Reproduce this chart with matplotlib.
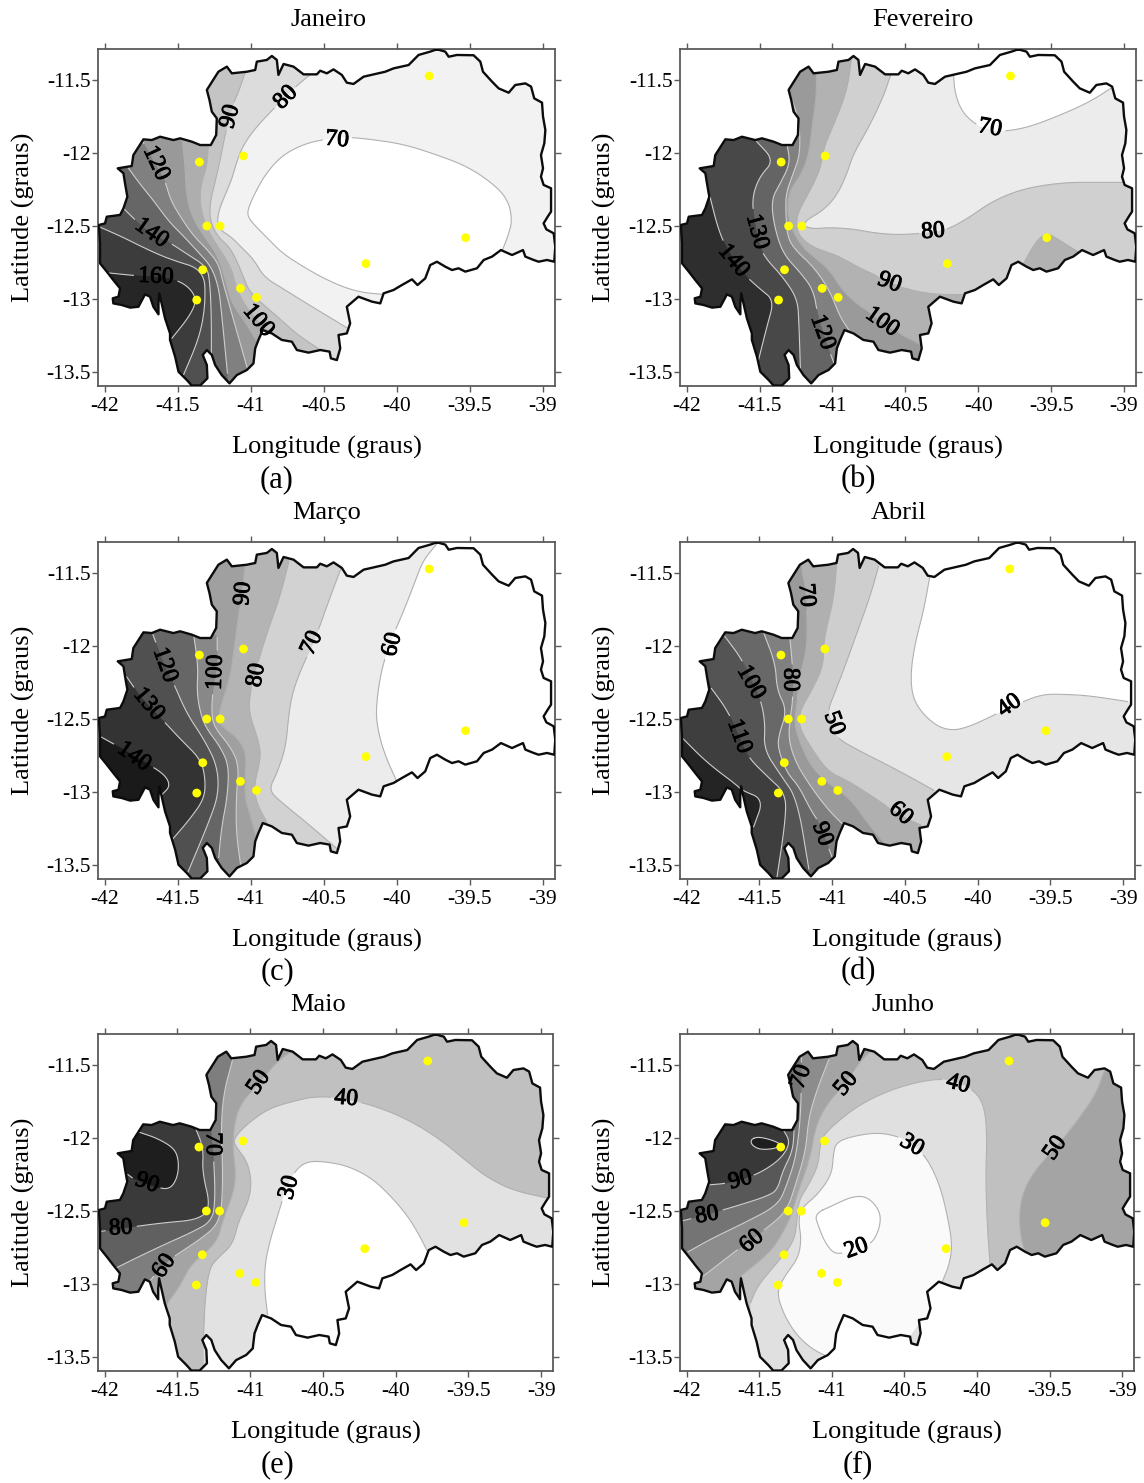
import numpy as np
import matplotlib
matplotlib.use("Agg")
import matplotlib.pyplot as plt
from matplotlib.patches import Polygon
import matplotlib.patheffects as pe

plt.rcParams['font.family'] = ['Liberation Serif', 'DejaVu Serif']

SW = (-42.3, -13.9); NW = (-42.3, -11.0); NE = (-38.7, -11.0); SE = (-38.7, -13.9)

XTICKS = [-42, -41.5, -41, -40.5, -40, -39.5, -39]
XTICKLABELS = ['-42', '-41.5', '-41', '-40.5', '-40', '-39.5', '-39']
YTICKS = [-11.5, -12, -12.5, -13, -13.5]
YTICKLABELS = ['-11.5', '-12', '-12.5', '-13', '-13.5']

STATION_LON = [-39.779, -41.050, -41.352, -41.301, -41.210, -41.329, -41.370, -41.071, -40.961, -40.212, -39.530]
STATION_LAT = [-11.470, -12.019, -12.061, -12.500, -12.500, -12.800, -13.008, -12.928, -12.990, -12.758, -12.580]

BASIN = [(-39.726,-11.287),(-39.669,-11.303),(-39.646,-11.338),(-39.589,-11.326),(-39.475,-11.328),(-39.429,-11.372),(-39.411,-11.441),(-39.349,-11.509),(-39.304,-11.555),(-39.235,-11.585),(-39.190,-11.532),(-39.121,-11.521),(-39.082,-11.543),(-39.060,-11.624),(-39.007,-11.653),(-39.000,-11.749),(-38.984,-11.841),(-38.991,-11.932),(-39.014,-12.013),(-39.000,-12.104),(-39.014,-12.161),(-38.996,-12.218),(-38.945,-12.241),(-38.945,-12.401),(-38.968,-12.436),(-38.996,-12.482),(-38.977,-12.523),(-38.927,-12.550),(-38.916,-12.642),(-38.923,-12.745),(-38.973,-12.733),(-39.030,-12.745),(-39.064,-12.733),(-39.121,-12.710),(-39.137,-12.665),(-39.212,-12.699),(-39.288,-12.665),(-39.349,-12.710),(-39.406,-12.733),(-39.452,-12.790),(-39.532,-12.813),(-39.578,-12.790),(-39.623,-12.802),(-39.669,-12.779),(-39.726,-12.745),(-39.772,-12.768),(-39.806,-12.859),(-39.859,-12.905),(-39.897,-12.866),(-39.966,-12.905),(-40.023,-12.939),(-40.091,-12.962),(-40.114,-13.031),(-40.171,-13.019),(-40.263,-12.985),(-40.343,-13.054),(-40.320,-13.168),(-40.343,-13.237),(-40.400,-13.248),(-40.388,-13.340),(-40.411,-13.420),(-40.452,-13.408),(-40.461,-13.362),(-40.525,-13.351),(-40.605,-13.369),(-40.685,-13.351),(-40.719,-13.294),(-40.788,-13.282),(-40.856,-13.237),(-40.918,-13.214),(-40.948,-13.282),(-40.970,-13.340),(-40.982,-13.443),(-41.027,-13.488),(-41.096,-13.523),(-41.146,-13.580),(-41.199,-13.523),(-41.244,-13.454),(-41.267,-13.385),(-41.301,-13.351),(-41.329,-13.385),(-41.301,-13.454),(-41.297,-13.545),(-41.347,-13.595),(-41.404,-13.595),(-41.438,-13.557),(-41.495,-13.500),(-41.518,-13.397),(-41.553,-13.282),(-41.553,-13.237),(-41.587,-13.134),(-41.626,-12.962),(-41.632,-13.031),(-41.632,-13.106),(-41.667,-13.054),(-41.690,-12.985),(-41.724,-12.969),(-41.769,-13.054),(-41.826,-13.060),(-41.884,-13.042),(-41.941,-13.031),(-41.945,-12.996),(-41.906,-12.985),(-41.895,-12.928),(-41.941,-12.871),(-41.986,-12.813),(-42.032,-12.756),(-42.032,-12.619),(-42.040,-12.493),(-41.998,-12.482),(-41.986,-12.436),(-41.895,-12.424),(-41.872,-12.379),(-41.845,-12.299),(-41.861,-12.207),(-41.872,-12.138),(-41.911,-12.104),(-41.815,-12.088),(-41.804,-12.013),(-41.735,-11.905),(-41.678,-11.910),(-41.621,-11.887),(-41.530,-11.910),(-41.484,-11.898),(-41.404,-11.921),(-41.347,-11.944),(-41.274,-11.944),(-41.237,-11.875),(-41.233,-11.761),(-41.267,-11.715),(-41.283,-11.635),(-41.301,-11.566),(-41.244,-11.475),(-41.222,-11.441),(-41.164,-11.406),(-41.130,-11.452),(-41.027,-11.441),(-40.970,-11.429),(-40.959,-11.372),(-40.890,-11.360),(-40.856,-11.333),(-40.822,-11.360),(-40.811,-11.463),(-40.776,-11.388),(-40.708,-11.406),(-40.639,-11.459),(-40.548,-11.459),(-40.525,-11.434),(-40.480,-11.452),(-40.434,-11.425),(-40.377,-11.463),(-40.343,-11.516),(-40.297,-11.525),(-40.228,-11.475),(-40.080,-11.441),(-40.023,-11.418),(-39.920,-11.395),(-39.852,-11.326),(-39.772,-11.303)]

# ---- Janeiro
JAN_BASE = '#f2f2f2'
JAN_LEVELS = [70, 80, 90, 100, 110, 120, 130, 140, 150, 160]
JAN_FILLS = ['#ffffff', '#dcdcdc', '#c4c4c4', '#aeaeae', '#999999', '#808080', '#666666', '#505050', '#3c3c3c', '#262626']
JAN_LINES = [
 [(-40.08,-12.97),(-40.21,-12.96),(-40.34,-12.93),(-40.50,-12.86),(-40.64,-12.78),(-40.78,-12.69),(-40.87,-12.60),(-40.96,-12.51),(-41.02,-12.44),(-41.02,-12.38),(-40.96,-12.25),(-40.89,-12.13),(-40.78,-12.01),(-40.62,-11.93),(-40.46,-11.90),(-40.32,-11.89),(-40.14,-11.91),(-39.95,-11.94),(-39.73,-12.01),(-39.52,-12.09),(-39.34,-12.21),(-39.24,-12.32),(-39.21,-12.46),(-39.24,-12.57),(-39.28,-12.67)],
 [(-40.58,-11.45),(-40.69,-11.54),(-40.76,-11.61),(-40.84,-11.69),(-40.98,-11.84),(-41.06,-11.96),(-41.10,-12.07),(-41.13,-12.18),(-41.20,-12.34),(-41.23,-12.44),(-41.22,-12.52),(-41.14,-12.57),(-41.06,-12.65),(-40.98,-12.73),(-40.91,-12.85),(-40.78,-12.93),(-40.62,-13.03),(-40.34,-13.20)],
 [(-41.04,-11.45),(-41.08,-11.57),(-41.13,-11.68),(-41.18,-11.89),(-41.20,-12.00),(-41.24,-12.18),(-41.28,-12.34),(-41.28,-12.46),(-41.23,-12.57),(-41.15,-12.64),(-41.10,-12.73),(-41.05,-12.85),(-41.02,-12.93),(-40.96,-13.00),(-40.82,-13.12),(-40.69,-13.24),(-40.51,-13.36)],
 [(-41.29,-11.93),(-41.30,-12.09),(-41.34,-12.21),(-41.35,-12.34),(-41.31,-12.50),(-41.24,-12.62),(-41.18,-12.71),(-41.13,-12.80),(-41.10,-12.92),(-41.06,-13.01),(-41.00,-13.09),(-40.95,-13.16),(-40.85,-13.25)],
 [(-41.47,-11.90),(-41.45,-12.09),(-41.44,-12.30),(-41.40,-12.44),(-41.32,-12.57),(-41.24,-12.68),(-41.20,-12.78),(-41.16,-12.92),(-41.13,-13.03),(-41.03,-13.17),(-40.96,-13.29)],
 [(-41.74,-11.92),(-41.66,-12.07),(-41.59,-12.18),(-41.55,-12.32),(-41.48,-12.44),(-41.39,-12.57),(-41.30,-12.66),(-41.22,-12.76),(-41.19,-12.89),(-41.15,-13.03),(-41.10,-13.21),(-41.02,-13.49)],
 [(-41.84,-12.10),(-41.76,-12.21),(-41.67,-12.32),(-41.56,-12.47),(-41.46,-12.57),(-41.35,-12.69),(-41.27,-12.78),(-41.22,-12.92),(-41.20,-13.10),(-41.16,-13.51)],
 [(-41.87,-12.38),(-41.78,-12.47),(-41.68,-12.56),(-41.56,-12.61),(-41.44,-12.69),(-41.30,-12.78),(-41.28,-12.89),(-41.27,-13.12),(-41.27,-13.42)],
 [(-42.05,-12.50),(-41.89,-12.57),(-41.71,-12.66),(-41.55,-12.73),(-41.32,-12.80),(-41.31,-13.03),(-41.35,-13.26),(-41.46,-13.52)],
 [(-41.99,-12.82),(-41.80,-12.84),(-41.53,-12.86),(-41.42,-12.92),(-41.37,-13.01),(-41.42,-13.12),(-41.54,-13.27)],
]
JAN_CLOSE = [
 [(-39.5,-12.95)],
 [(-40.3,-13.9), SW, NW, (-40.58,-11.0)],
 [(-40.5,-13.9), SW, NW, (-41.04,-11.0)],
 [(-40.8,-13.9), SW, NW, (-41.32,-11.0)],
 [(-40.9,-13.9), SW, NW, (-41.47,-11.0)],
 [(-41.0,-13.9), SW, NW, (-41.74,-11.0)],
 [(-41.16,-13.9), SW, NW],
 [(-41.27,-13.9), SW, NW],
 [(-41.5,-13.9), SW],
 [(-41.7,-13.4), (-42.2,-13.2), (-42.2,-12.8)],
]
JAN_LABELS = [('120',-41.65,-12.07,-65),('140',-41.68,-12.55,-35),('160',-41.65,-12.85,-3),('100',-40.95,-13.15,-50),('90',-41.14,-11.75,75),('80',-40.76,-11.62,45),('70',-40.41,-11.91,-5)]

# ---- Fevereiro
FEB_BASE = '#ececec'
FEB_LEVELS = [70, 80, 90, 90, 100, 110, 120, 130, 140]
FEB_FILLS = ['#ffffff', '#d0d0d0', '#b2b2b2', '#b2b2b2', '#9a9a9a', '#808080', '#646464', '#484848', '#2e2e2e']
FEB_LINES = [
 [(-40.17,-11.46),(-40.16,-11.59),(-40.11,-11.72),(-40.01,-11.81),(-39.91,-11.84),(-39.81,-11.85),(-39.65,-11.82),(-39.44,-11.74),(-39.24,-11.65),(-39.09,-11.555)],
 [(-40.60,-11.46),(-40.65,-11.61),(-40.75,-11.82),(-40.86,-12.01),(-40.90,-12.14),(-40.97,-12.29),(-41.06,-12.39),(-41.18,-12.46),(-41.20,-12.50),(-41.13,-12.52),(-41.02,-12.51),(-40.86,-12.52),(-40.70,-12.55),(-40.54,-12.56),(-40.38,-12.55),(-40.22,-12.53),(-40.06,-12.44),(-39.92,-12.34),(-39.74,-12.26),(-39.56,-12.22),(-39.37,-12.20),(-39.17,-12.20),(-38.94,-12.20)],
 [(-40.87,-11.35),(-40.90,-11.57),(-40.99,-11.80),(-41.06,-11.96),(-41.08,-12.10),(-41.15,-12.25),(-41.23,-12.39),(-41.25,-12.48),(-41.23,-12.57),(-41.13,-12.65),(-40.97,-12.70),(-40.83,-12.78),(-40.70,-12.84),(-40.51,-12.93),(-40.31,-12.97),(-40.11,-12.97)],
 [(-39.69,-12.76),(-39.63,-12.65),(-39.58,-12.58),(-39.52,-12.55),(-39.44,-12.60),(-39.31,-12.68)],
 [(-41.11,-11.45),(-41.11,-11.61),(-41.14,-11.82),(-41.16,-12.00),(-41.21,-12.14),(-41.29,-12.25),(-41.31,-12.37),(-41.29,-12.50),(-41.21,-12.64),(-41.13,-12.71),(-41.02,-12.80),(-40.92,-12.96),(-40.76,-13.09),(-40.65,-13.17),(-40.56,-13.23),(-40.40,-13.31)],
 [(-41.29,-11.60),(-41.23,-11.77),(-41.22,-12.00),(-41.27,-12.14),(-41.32,-12.28),(-41.32,-12.41),(-41.31,-12.57),(-41.26,-12.66),(-41.13,-12.78),(-41.02,-12.94),(-40.95,-13.12),(-40.89,-13.21)],
 [(-41.31,-11.95),(-41.29,-12.07),(-41.36,-12.21),(-41.42,-12.32),(-41.40,-12.50),(-41.34,-12.69),(-41.22,-12.82),(-41.13,-12.94),(-41.10,-13.12),(-41.04,-13.31),(-40.99,-13.44)],
 [(-41.52,-11.92),(-41.40,-12.05),(-41.50,-12.16),(-41.55,-12.30),(-41.54,-12.44),(-41.51,-12.60),(-41.47,-12.71),(-41.34,-12.85),(-41.24,-13.00),(-41.23,-13.17),(-41.22,-13.48)],
 [(-41.84,-12.30),(-41.79,-12.50),(-41.735,-12.64),(-41.62,-12.82),(-41.50,-12.93),(-41.40,-13.01),(-41.45,-13.19),(-41.51,-13.43)],
]
FEB_CLOSE = [
 [(-39.05,-11.0), (-40.17,-11.0)],
 [(-38.7,-12.2), SE, SW, NW, (-40.6,-11.0)],
 [(-40.11,-13.9), SW, NW, (-40.87,-11.0)],
 [(-39.3,-13.0), (-39.7,-13.0)],
 [(-40.4,-13.9), SW, NW, (-41.11,-11.0)],
 [(-40.85,-13.9), SW, NW, (-41.35,-11.0)],
 [(-40.95,-13.9), SW, NW, (-41.35,-11.0)],
 [(-41.22,-13.9), SW, NW, (-41.55,-11.0)],
 [(-41.55,-13.9), SW, NW],
]
FEB_LABELS = [('70',-39.92,-11.83,-10),('80',-40.31,-12.54,5),('90',-40.61,-12.89,-20),('100',-40.66,-13.16,-35),('120',-41.07,-13.23,-70),('130',-41.52,-12.54,-75),('140',-41.68,-12.74,-50)]

# ---- Marco
MAR_BASE = '#ffffff'
MAR_LEVELS = [60, 70, 80, 90, 100, 110, 120, 130, 140]
MAR_FILLS = ['#ececec', '#d2d2d2', '#b4b4b4', '#a0a0a0', '#888888', '#666666', '#505050', '#333333', '#1a1a1a']
MAR_LINES = [
 [(-39.72,-11.29),(-39.82,-11.41),(-39.87,-11.54),(-39.95,-11.75),(-40.05,-11.98),(-40.11,-12.18),(-40.14,-12.39),(-40.14,-12.53),(-40.09,-12.73),(-40.00,-12.93)],
 [(-40.38,-11.46),(-40.46,-11.67),(-40.57,-11.98),(-40.64,-12.12),(-40.71,-12.30),(-40.74,-12.46),(-40.76,-12.69),(-40.82,-12.87),(-40.88,-12.99),(-40.78,-13.08),(-40.62,-13.21),(-40.41,-13.39)],
 [(-40.74,-11.42),(-40.80,-11.66),(-40.89,-11.91),(-40.96,-12.14),(-41.01,-12.34),(-41.01,-12.47),(-40.95,-12.64),(-40.93,-12.76),(-40.98,-12.96),(-40.96,-13.08),(-40.89,-13.21)],
 [(-41.04,-11.46),(-41.07,-11.68),(-41.11,-11.98),(-41.14,-12.21),(-41.20,-12.39),(-41.22,-12.49),(-41.20,-12.55),(-41.10,-12.62),(-41.03,-12.73),(-41.04,-12.89),(-41.04,-13.05),(-41.00,-13.17),(-40.97,-13.29)],
 [(-41.23,-11.94),(-41.23,-12.14),(-41.26,-12.30),(-41.27,-12.48),(-41.24,-12.57),(-41.14,-12.69),(-41.08,-12.82),(-41.10,-13.03),(-41.10,-13.28),(-41.07,-13.50)],
 [(-41.39,-11.93),(-41.36,-12.14),(-41.37,-12.32),(-41.34,-12.48),(-41.30,-12.57),(-41.21,-12.69),(-41.15,-12.82),(-41.16,-13.03),(-41.20,-13.24),(-41.22,-13.45)],
 [(-41.67,-11.92),(-41.59,-12.14),(-41.53,-12.25),(-41.44,-12.46),(-41.32,-12.64),(-41.23,-12.82),(-41.22,-13.01),(-41.28,-13.19),(-41.43,-13.55)],
 [(-41.85,-12.21),(-41.74,-12.37),(-41.61,-12.50),(-41.48,-12.64),(-41.34,-12.78),(-41.31,-12.92),(-41.32,-13.05),(-41.42,-13.19),(-41.54,-13.33)],
 [(-42.03,-12.62),(-41.87,-12.71),(-41.72,-12.80),(-41.59,-12.88),(-41.55,-12.96),(-41.61,-13.02)],
]
MAR_CLOSE = [
 [(-40.0,-13.9), SW, NW, (-39.7,-11.0)],
 [(-40.4,-13.9), SW, NW, (-40.38,-11.0)],
 [(-40.85,-13.9), SW, NW, (-40.74,-11.0)],
 [(-40.95,-13.9), SW, NW, (-41.04,-11.0)],
 [(-41.05,-13.9), SW, NW, (-41.27,-11.90)],
 [(-41.22,-13.9), SW, NW, (-41.39,-11.0)],
 [(-41.45,-13.9), SW, NW, (-41.67,-11.0)],
 [(-41.7,-13.6), SW, NW],
 [(-41.8,-13.3), (-42.2,-13.3), (-42.2,-12.6)],
]
MAR_LABELS = [('60',-40.03,-11.99,75),('70',-40.58,-11.98,65),('80',-40.96,-12.20,80),('90',-41.05,-11.64,85),('100',-41.24,-12.18,88),('120',-41.59,-12.13,-70),('130',-41.70,-12.40,-50),('140',-41.80,-12.76,-35)]

# ---- Abril
APR_BASE = '#e6e6e6'
APR_LEVELS = [40, 50, 60, 70, 80, 90, 100, 110, 120]
APR_FILLS = ['#ffffff', '#cecece', '#b0b0b0', '#9a9a9a', '#808080', '#686868', '#545454', '#3e3e3e', '#242424']
APR_LINES = [
 [(-40.33,-11.53),(-40.37,-11.75),(-40.43,-11.98),(-40.46,-12.18),(-40.45,-12.34),(-40.39,-12.45),(-40.28,-12.55),(-40.17,-12.58),(-40.05,-12.55),(-39.86,-12.46),(-39.69,-12.38),(-39.55,-12.33),(-39.41,-12.33),(-39.23,-12.34),(-38.97,-12.38)],
 [(-40.68,-11.45),(-40.74,-11.66),(-40.83,-11.91),(-40.92,-12.16),(-40.99,-12.34),(-41.03,-12.44),(-41.00,-12.54),(-40.97,-12.63),(-40.83,-12.71),(-40.65,-12.80),(-40.46,-12.90),(-40.30,-12.99)],
 [(-40.97,-11.45),(-40.99,-11.68),(-41.06,-11.96),(-41.06,-12.14),(-41.15,-12.32),(-41.22,-12.44),(-41.23,-12.55),(-41.15,-12.69),(-41.03,-12.86),(-40.90,-12.92),(-40.74,-13.02),(-40.55,-13.15),(-40.39,-13.23)],
 [(-41.21,-11.45),(-41.18,-11.66),(-41.17,-11.89),(-41.18,-12.05),(-41.23,-12.23),(-41.24,-12.39),(-41.26,-12.52),(-41.23,-12.64),(-41.15,-12.82),(-41.03,-12.94),(-40.87,-13.05),(-40.76,-13.21),(-40.65,-13.34)],
 [(-41.29,-11.95),(-41.27,-12.16),(-41.27,-12.37),(-41.29,-12.50),(-41.30,-12.64),(-41.25,-12.80),(-41.15,-12.96),(-41.03,-13.12),(-40.93,-13.22)],
 [(-41.47,-11.91),(-41.39,-12.12),(-41.38,-12.30),(-41.31,-12.44),(-41.37,-12.62),(-41.37,-12.71),(-41.31,-12.87),(-41.23,-12.96),(-41.15,-13.12),(-41.09,-13.21),(-41.00,-13.45)],
 [(-41.74,-11.93),(-41.62,-12.09),(-41.55,-12.25),(-41.49,-12.37),(-41.46,-12.53),(-41.47,-12.71),(-41.35,-12.89),(-41.24,-13.05),(-41.16,-13.53)],
 [(-41.83,-12.29),(-41.72,-12.44),(-41.64,-12.62),(-41.58,-12.76),(-41.45,-12.89),(-41.32,-13.01),(-41.32,-13.19),(-41.38,-13.59)],
 [(-42.03,-12.63),(-41.86,-12.80),(-41.66,-12.95),(-41.62,-12.99),(-41.47,-13.05),(-41.54,-13.24)],
]
APR_CLOSE = [
 [(-38.7,-12.38), NE, (-40.33,-11.0)],
 [(-40.3,-13.9), SW, NW, (-40.68,-11.0)],
 [(-40.35,-13.9), SW, NW, (-40.97,-11.0)],
 [(-40.65,-13.9), SW, NW, (-41.25,-11.0)],
 [(-40.9,-13.9), SW, NW, (-41.32,-11.90)],
 [(-40.95,-13.9), SW, NW, (-41.47,-11.0)],
 [(-41.15,-13.9), SW, NW, (-41.74,-11.0)],
 [(-41.4,-13.9), SW, NW],
 [(-41.7,-13.4), (-42.2,-13.4), (-42.2,-12.6)],
]
APR_LABELS = [('70',-41.18,-11.65,-85),('80',-41.29,-12.23,-90),('100',-41.56,-12.25,-60),('110',-41.64,-12.62,-70),('90',-41.07,-13.29,-70),('60',-40.53,-13.15,-40),('50',-40.99,-12.53,-70),('40',-39.78,-12.41,35)]

# ---- Maio
MAY_BASE = '#e2e2e2'
MAY_LEVELS = [30, 40, 50, 60, 70, 80, 90]
MAY_FILLS = ['#ffffff', '#c0c0c0', '#a4a4a4', '#7e7e7e', '#606060', '#3a3a3a', '#1e1e1e']
MAY_LINES = [
 [(-40.88,-13.21),(-40.90,-13.05),(-40.90,-12.87),(-40.86,-12.69),(-40.81,-12.53),(-40.76,-12.36),(-40.69,-12.22),(-40.61,-12.16),(-40.49,-12.16),(-40.33,-12.19),(-40.17,-12.27),(-40.04,-12.39),(-39.92,-12.53),(-39.84,-12.66),(-39.77,-12.80)],
 [(-41.32,-13.35),(-41.31,-13.10),(-41.28,-12.89),(-41.22,-12.82),(-41.12,-12.73),(-41.08,-12.57),(-41.01,-12.43),(-40.99,-12.30),(-41.02,-12.16),(-41.09,-12.07),(-41.12,-12.01),(-41.03,-11.91),(-40.88,-11.80),(-40.72,-11.75),(-40.54,-11.71),(-40.33,-11.73),(-40.11,-11.79),(-39.90,-11.88),(-39.69,-12.01),(-39.51,-12.16),(-39.37,-12.27),(-39.19,-12.36),(-38.96,-12.41)],
 [(-40.71,-11.40),(-40.81,-11.47),(-40.95,-11.63),(-41.07,-11.77),(-41.11,-11.91),(-41.12,-12.07),(-41.10,-12.23),(-41.11,-12.36),(-41.19,-12.57),(-41.22,-12.69),(-41.30,-12.78),(-41.41,-12.87),(-41.48,-13.01),(-41.56,-13.12)],
 [(-41.12,-11.46),(-41.18,-11.68),(-41.20,-11.91),(-41.19,-12.18),(-41.19,-12.34),(-41.20,-12.51),(-41.24,-12.61),(-41.34,-12.69),(-41.43,-12.75),(-41.58,-12.85),(-41.69,-12.98)],
 [(-41.27,-11.95),(-41.25,-12.14),(-41.24,-12.41),(-41.26,-12.57),(-41.41,-12.65),(-41.59,-12.73),(-41.78,-12.82),(-41.92,-12.89)],
 [(-41.38,-11.92),(-41.32,-12.07),(-41.33,-12.23),(-41.27,-12.48),(-41.36,-12.56),(-41.59,-12.58),(-41.82,-12.61),(-42.03,-12.64)],
 [(-41.76,-11.96),(-41.64,-12.00),(-41.52,-12.07),(-41.49,-12.16),(-41.50,-12.27),(-41.55,-12.35),(-41.64,-12.34),(-41.80,-12.28),(-41.84,-12.25)],
]
MAY_CLOSE = [
 [(-39.77,-13.7), (-40.88,-13.7)],
 [(-38.7,-12.41), NE, NW, SW, (-41.32,-13.9)],
 [(-41.62,-13.25), SW, NW, (-40.71,-11.0)],
 [(-41.75,-13.1), (-42.2,-13.1), NW, (-41.2,-11.0)],
 [(-42.2,-12.89), NW, (-41.3,-11.90)],
 [(-42.2,-12.64), NW, (-41.38,-11.0)],
 [(-42.0,-12.25), (-42.0,-11.96)],
]
MAY_LABELS = [('40',-40.34,-11.73,-5),('50',-40.94,-11.62,55),('30',-40.73,-12.34,75),('70',-41.26,-12.04,-90),('90',-41.71,-12.31,-20),('80',-41.89,-12.62,3),('60',-41.59,-12.88,55)]

# ---- Junho
JUN_BASE = '#c0c0c0'
JUN_LEVELS = [40, 30, 20, 50, 50, 60, 70, 80, 90, 100]
JUN_FILLS = ['#e0e0e0', '#fafafa', '#ffffff', '#a4a4a4', '#a4a4a4', '#8c8c8c', '#747474', '#585858', '#383838', '#1e1e1e']
JUN_LINES = [
 [(-41.56,-13.13),(-41.51,-13.01),(-41.38,-12.86),(-41.26,-12.71),(-41.24,-12.57),(-41.23,-12.43),(-41.16,-12.32),(-41.09,-12.18),(-41.08,-12.01),(-40.99,-11.91),(-40.81,-11.77),(-40.60,-11.67),(-40.39,-11.61),(-40.21,-11.59),(-40.03,-11.66),(-39.95,-11.77),(-39.93,-11.98),(-39.94,-12.25),(-39.93,-12.59),(-39.91,-12.86)],
 [(-41.01,-13.51),(-41.15,-13.44),(-41.26,-13.33),(-41.34,-13.19),(-41.38,-13.05),(-41.32,-12.94),(-41.23,-12.82),(-41.21,-12.69),(-41.23,-12.57),(-41.21,-12.48),(-41.10,-12.39),(-41.00,-12.25),(-40.99,-12.11),(-40.97,-12.03),(-40.87,-11.99),(-40.69,-11.96),(-40.53,-11.99),(-40.42,-12.06),(-40.33,-12.16),(-40.25,-12.34),(-40.20,-12.55),(-40.17,-12.73),(-40.19,-12.87),(-40.25,-13.01)],
 [(-41.12,-12.52),(-40.99,-12.46),(-40.86,-12.40),(-40.76,-12.40),(-40.68,-12.48),(-40.66,-12.57),(-40.70,-12.69),(-40.76,-12.74),(-40.83,-12.77),(-40.92,-12.79),(-40.99,-12.79),(-41.05,-12.71),(-41.09,-12.61),(-41.12,-12.52)],
 [(-40.73,-11.40),(-40.81,-11.48),(-40.91,-11.63),(-41.03,-11.76),(-41.11,-11.91),(-41.15,-12.14),(-41.23,-12.36),(-41.27,-12.50),(-41.32,-12.62),(-41.42,-12.78),(-41.62,-12.94)],
 [(-39.12,-11.53),(-39.18,-11.70),(-39.33,-11.91),(-39.46,-12.07),(-39.61,-12.23),(-39.69,-12.39),(-39.71,-12.55),(-39.69,-12.73),(-39.65,-12.80)],
 [(-41.02,-11.46),(-41.10,-11.66),(-41.16,-11.86),(-41.18,-12.09),(-41.25,-12.32),(-41.31,-12.50),(-41.45,-12.62),(-41.63,-12.75),(-41.76,-12.85),(-41.89,-12.95)],
 [(-41.21,-11.44),(-41.21,-11.68),(-41.22,-11.91),(-41.25,-12.14),(-41.31,-12.32),(-41.37,-12.46),(-41.60,-12.58),(-41.83,-12.69),(-41.99,-12.78)],
 [(-41.26,-11.95),(-41.27,-12.09),(-41.34,-12.23),(-41.37,-12.34),(-41.42,-12.39),(-41.67,-12.47),(-41.92,-12.54),(-42.04,-12.57)],
 [(-41.33,-11.95),(-41.29,-12.02),(-41.32,-12.10),(-41.40,-12.18),(-41.54,-12.26),(-41.72,-12.31),(-41.84,-12.32)],
 [(-41.56,-12.01),(-41.51,-11.99),(-41.42,-12.01),(-41.35,-12.04),(-41.38,-12.07),(-41.49,-12.08),(-41.55,-12.05),(-41.56,-12.01)],
]
JUN_CLOSE = [
 [(-39.91,-13.7), (-41.56,-13.7)],
 [(-40.28,-13.21), (-40.39,-13.26), (-40.47,-13.37), (-40.65,-13.53), (-41.01,-13.53)],
 [],
 [(-41.63,-13.10), (-42.2,-13.3), NW, (-40.73,-11.0)],
 [(-39.65,-13.1), (-38.7,-13.1), (-38.7,-11.4), (-39.1,-11.4)],
 [(-42.2,-12.95), NW, (-41.02,-11.0)],
 [(-42.2,-12.78), NW, (-41.24,-11.0)],
 [(-42.2,-12.57), NW, (-41.28,-11.90)],
 [(-42.0,-12.32), (-42.0,-11.8), (-41.33,-11.8)],
 [],
]
JUN_LABELS = [('70',-41.21,-11.58,70),('50',-40.90,-11.63,50),('40',-40.13,-11.63,-15),('30',-40.45,-12.05,-30),('50',-39.46,-12.07,55),('90',-41.63,-12.29,15),('80',-41.86,-12.53,10),('60',-41.55,-12.71,40),('20',-40.83,-12.76,20)]

MONTHS = [
 ('Janeiro', '(a)', JAN_BASE, JAN_LEVELS, JAN_FILLS, JAN_LINES, JAN_CLOSE, JAN_LABELS),
 ('Fevereiro', '(b)', FEB_BASE, FEB_LEVELS, FEB_FILLS, FEB_LINES, FEB_CLOSE, FEB_LABELS),
 ('Março', '(c)', MAR_BASE, MAR_LEVELS, MAR_FILLS, MAR_LINES, MAR_CLOSE, MAR_LABELS),
 ('Abril', '(d)', APR_BASE, APR_LEVELS, APR_FILLS, APR_LINES, APR_CLOSE, APR_LABELS),
 ('Maio', '(e)', MAY_BASE, MAY_LEVELS, MAY_FILLS, MAY_LINES, MAY_CLOSE, MAY_LABELS),
 ('Junho', '(f)', JUN_BASE, JUN_LEVELS, JUN_FILLS, JUN_LINES, JUN_CLOSE, JUN_LABELS),
]

# layout in figure pixels
W, H = 1144, 1483
FRAMES = [(98,49,555,386),(680,49,1136,386),(98,542,555,879),(680,542,1135,879),(98,1034,553,1371),(680,1034,1134,1371)]
TITLE_XY = [(329,20),(923,20),(327,513),(899,513),(318,1005),(903,1005)]
XLABEL_XY = [(327,447),(908,447),(327,940),(907,940),(326,1432),(907,1432)]
YLABEL_XY = [(23,217),(604,217),(23,710),(604,710),(23,1202),(604,1202)]
PANEL_XY = [(277,480),(858,480),(277,972),(858,972),(277,1465),(858,1465)]


def smooth(pts, n=3):
    p = np.asarray(pts, dtype=float)
    closed = len(p) > 2 and np.allclose(p[0], p[-1])
    for _ in range(n):
        q = 0.75 * p[:-1] + 0.25 * p[1:]
        r = 0.25 * p[:-1] + 0.75 * p[1:]
        m = np.empty((2 * len(q), 2))
        m[0::2] = q
        m[1::2] = r
        if closed:
            p = np.vstack([m, m[:1]])
        else:
            p = np.vstack([p[:1], m, p[-1:]])
    return p


def fx(px):
    return px / W


def fy(py):
    return 1 - py / H


fig = plt.figure(figsize=(W / 100, H / 100), dpi=100, facecolor='white')
GREY = '#5a5a5a'

for i, (title, tag, base, levels, fills, lines, closes, labels) in enumerate(MONTHS):
    x0, y0, x1, y1 = FRAMES[i]
    ax = fig.add_axes([fx(x0), fy(y1), (x1 - x0) / W, (y1 - y0) / H])
    ax.set_xlim(-42.046, -38.918)
    ax.set_ylim(-13.598, -11.285)

    clip = Polygon(BASIN, closed=True, facecolor=base, edgecolor='none', zorder=1)
    ax.add_patch(clip)

    curves = []
    for fill, line, close in zip(fills, lines, closes):
        s = smooth(line)
        poly = np.vstack([s, np.array(close).reshape(-1, 2)]) if len(close) else s
        p = Polygon(poly, closed=True, facecolor=fill, edgecolor=fill, linewidth=0.3, zorder=2)
        ax.add_patch(p)
        p.set_clip_path(clip)
        curves.append((s, fill))

    for (s, fill), level in zip(curves, levels):
        xs, ys = s[:, 0].copy(), s[:, 1].copy()
        for text, lx, ly, rot in labels:
            if text == str(level):
                r = 0.05 * len(text)
                d = np.hypot(xs - lx, ys - ly)
                xs[d < r] = np.nan
        lum = int(fill[1:3], 16)
        colour = '#cfcfcf' if lum < 0x90 else '#b0b0b0'
        ln, = ax.plot(xs, ys, color=colour, lw=0.8, zorder=3)
        ln.set_clip_path(clip)

    bx, by = zip(*(BASIN + BASIN[:1]))
    ax.plot(bx, by, color='#0c0c0c', lw=1.7, zorder=4, solid_joinstyle='round')

    ax.scatter(STATION_LON, STATION_LAT, s=40, color='#ffff00', edgecolors='none', zorder=5)

    for text, lx, ly, rot in labels:
        ax.text(lx, ly, text, rotation=rot, rotation_mode='anchor', ha='center', va='center',
                fontsize=17, color='black', zorder=6,
                path_effects=[pe.withStroke(linewidth=0.7, foreground='black')])

    ax.set_xticks(XTICKS)
    ax.set_xticklabels(XTICKLABELS)
    ax.set_yticks(YTICKS)
    ax.set_yticklabels(YTICKLABELS)
    ax.tick_params(axis='both', which='major', direction='out', length=4, width=1.0, color=GREY,
                   labelsize=15.5, top=True, right=True, pad=1)
    ax.tick_params(axis='x', pad=4)
    for sp in ax.spines.values():
        sp.set_color(GREY)
        sp.set_linewidth(1.3)

    fig.text(fx(TITLE_XY[i][0]), fy(TITLE_XY[i][1]), title, ha='center', va='center', fontsize=19)
    fig.text(fx(XLABEL_XY[i][0]), fy(XLABEL_XY[i][1]), 'Longitude (graus)', ha='center', va='center', fontsize=19)
    fig.text(fx(YLABEL_XY[i][0]), fy(YLABEL_XY[i][1]), 'Latitude (graus)', ha='center', va='center',
             rotation=90, fontsize=19)
    fig.text(fx(PANEL_XY[i][0]), fy(PANEL_XY[i][1]), tag, ha='center', va='center', fontsize=22)

fig.savefig('out.png', dpi=100, facecolor='white')
